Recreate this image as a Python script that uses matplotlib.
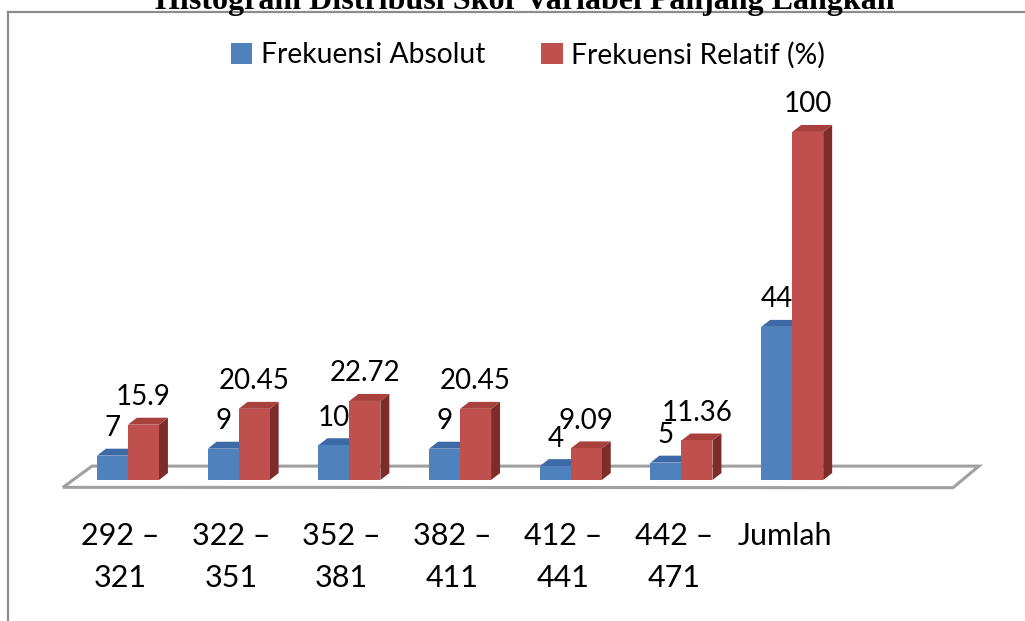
import numpy as np
import matplotlib.pyplot as plt
from matplotlib.patches import Polygon, Patch
from matplotlib.lines import Line2D

# data
categories = ["292 –\n321", "322 –\n351", "352 –\n381", "382 –\n411",
              "412 –\n441", "442 –\n471", "Jumlah"]
absolut = [7, 9, 10, 9, 4, 5, 44]
relatif = [15.9, 20.45, 22.72, 20.45, 9.09, 11.36, 100]
absolut_lbl = ["7", "9", "10", "9", "4", "5", "44"]
relatif_lbl = ["15.9", "20.45", "22.72", "20.45", "9.09", "11.36", "100"]

FONT = "Lato"
blue = ("#4f81bd", "#3d6aa6", "#35598a")   # front, top, side
red = ("#c0504d", "#a8403d", "#7e2c2a")

fig = plt.figure(figsize=(10.25, 6.21), dpi=100)
ax = fig.add_axes([0, 0, 1, 1])
ax.set_xlim(-1.156, 8.103)
ax.set_ylim(-40.5, 137.9)
ax.axis("off")

w = 0.28      # bar width
dx = 0.081    # depth offset x
dy = 2.0      # depth offset y


def bar3d(x0, v, cols):
    front, top, side = cols
    ax.add_patch(Polygon([(x0 + w, 0), (x0 + w + dx, dy), (x0 + w + dx, v + dy), (x0 + w, v)],
                         closed=True, fc=side, ec="none", zorder=3))
    ax.add_patch(Polygon([(x0, v), (x0 + w, v), (x0 + w + dx, v + dy), (x0 + dx, v + dy)],
                         closed=True, fc=top, ec="none", zorder=3))
    ax.add_patch(Polygon([(x0, 0), (x0 + w, 0), (x0 + w, v), (x0, v)],
                         closed=True, fc=front, ec="none", zorder=3))


# floor
floor = Polygon([(-0.587, -2.1), (-0.325, 4.0), (7.687, 4.0), (7.453, -2.2)],
                closed=True, fc="white", ec="#a0a0a0", lw=2.2, zorder=1)
ax.add_patch(floor)

x = np.arange(len(categories))
for i in x:
    bar3d(i - w, absolut[i], blue)
    bar3d(i, relatif[i], red)
    ax.text(i - w / 2, absolut[i] + 5.6, absolut_lbl[i], ha="center", va="baseline",
            fontsize=20, family=FONT, zorder=5)
    ax.text(i + w / 2, relatif[i] + 5.6, relatif_lbl[i], ha="center", va="baseline",
            fontsize=20, family=FONT, zorder=5)
    ax.text(i - 0.07, -12.2, categories[i], ha="center", va="top",
            fontsize=22, family=FONT, linespacing=1.58, zorder=5)

# frame
fig.add_artist(Line2D([8 / 1025, 8 / 1025], [0, 1 - 12 / 621], color="#8c8c8c", lw=1.6))
fig.add_artist(Line2D([8 / 1025, 1], [1 - 12 / 621, 1 - 12 / 621], color="#8c8c8c", lw=1.6))

fig.text(0.512, 1 - 9 / 621, "Histogram Distribusi Skor Variabel Panjang Langkah",
         ha="center", va="baseline", fontsize=23, fontweight="bold",
         family="Liberation Serif")

handles = [Patch(fc=blue[0], ec="none"), Patch(fc=red[0], ec="none")]
fig.legend(handles, ["Frekuensi Absolut", "Frekuensi Relatif (%)"], loc="center",
           bbox_to_anchor=(528 / 1025, 1 - 55 / 621), ncol=2, frameon=False,
           prop={"family": FONT, "size": 20.3}, handlelength=0.75, handleheight=0.75,
           handletextpad=0.3, columnspacing=2.0)

fig.savefig("out.png", dpi=100)
